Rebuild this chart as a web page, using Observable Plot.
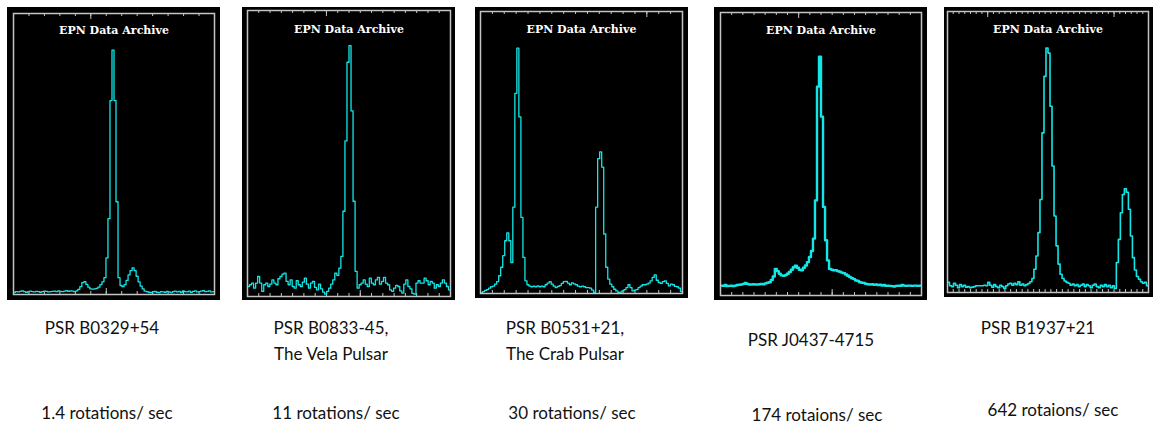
<!DOCTYPE html>
<html><head><meta charset="utf-8">
<script src="https://cdn.jsdelivr.net/npm/d3@7"></script>
<script src="https://cdn.jsdelivr.net/npm/@observablehq/plot@0.6"></script>
<style>
html,body{margin:0;padding:0;background:#fff;width:1153px;height:425px;overflow:hidden;}
#root{position:relative;width:1153px;height:425px;}
.panel{position:absolute;}
.lbl{position:absolute;transform:translate(-50%,-50%);font-family:Lato,"Open Sans",sans-serif;font-size:17px;color:#111;white-space:nowrap;text-align:center;line-height:26px;}
</style></head><body><div id="root"></div>
<script>
// ---- data (intensity in % of panel height, 100 phase bins each) ----
const titles = ["EPN Data Archive","EPN Data Archive","EPN Data Archive","EPN Data Archive","EPN Data Archive"];
const pulsarNames = [["PSR B0329+54"],["PSR B0833-45,","The Vela Pulsar"],["PSR B0531+21,","The Crab Pulsar"],["PSR J0437-4715"],["PSR B1937+21"]];
const rates = ["1.4 rotations/ sec","11 rotations/ sec","30 rotations/ sec","174 rotaions/ sec","642 rotaions/ sec"];

const b0329 = [0.8,1.0,0.9,1.1,1.3,1.0,0.8,1.0,1.2,1.0,0.9,1.1,1.0,0.8,1.0,1.2,1.1,0.9,1.0,1.1,1.2,1.0,1.3,1.1,1.0,1.2,1.4,1.1,1.3,1.2,1.0,1.3,
 1.8,2.8,4.2,4.6,3.6,2.6,2.0,1.9,2.0,2.2,2.6,3.5,4.5,6.0,13,27,69,87,69,33,6.0,3.2,2.8,3.5,5.0,7.0,8.5,9.5,8.5,6.5,4.5,3.0,2.0,1.2,
 1.0,0.8,0.7,0.9,1.1,0.8,0.7,1.0,0.9,0.8,1.1,0.9,0.7,1.0,1.2,0.9,1.1,0.8,1.3,1.0,0.9,1.2,0.8,1.1,1.3,0.9,1.0,1.2,1.4,1.0,1.1,1.3,0.9,1.0];
const b0833 = [3.5,4.1,4.7,2.9,4.7,7.0,4.7,1.8,4.1,4.7,3.5,4.3,5.8,4.7,4.1,6.2,7.0,7.8,8.2,5.3,
 4.1,5.8,3.5,2.9,5.5,4.1,3.5,5.0,6.4,4.3,2.9,4.7,5.3,3.2,2.3,4.3,2.7,1.5,0.8,1.8,
 2.9,4.3,5.8,8.2,7.4,9.9,14.0,29.8,54.4,81.9,87.7,64.9,33.3,8.8,2.9,4.1,4.7,5.8,4.3,3.5,
 6.4,4.7,4.1,5.8,6.7,4.3,5.3,6.7,4.7,4.1,2.3,1.8,2.9,3.9,3.5,2.0,1.2,4.3,5.8,3.5,
 2.7,1.1,0.8,4.7,5.5,4.7,4.7,6.4,5.5,4.1,5.3,4.7,2.9,4.1,3.5,4.7,5.8,4.7,3.5,2.3];
const b0531 = [0.2,0.7,1.1,1.4,1.9,2.4,2.6,3.3,4.2,6.3,9.3,13.4,18.7,21.5,18.7,11.0,30.6,71,87,62.6,
 27,12.8,4.5,3.1,2.6,2.4,2.6,2.4,2.7,2.4,2.6,2.4,3.1,3.7,4.2,3.3,2.6,2.1,2.5,2.8,
 3.6,4.2,4.3,3.7,3.1,3.8,3.4,3.1,2.6,2.4,2.6,2.4,2.1,2.1,1.9,1.2,0.4,30.6,47.8,50.2,
 44.8,21.1,9.3,5.1,3.3,2.4,1.5,0.9,0.4,0.5,0.9,1.4,2.1,3.1,2.1,0.9,1.2,1.4,2.1,2.6,
 3.1,3.1,3.3,3.7,4.5,5.7,6.6,4.7,3.9,3.6,4.2,4.5,3.6,2.7,3.3,3.1,2.5,2.4,1.9,0.7];
const j0437 = [3.5,3.4,3.7,3.3,3.4,3.5,3.3,3.5,3.7,3.8,3.9,4.1,4.4,4.1,3.9,3.9,4.0,3.9,3.9,4.0,
 4.1,4.0,4.3,4.5,4.7,5.5,6.7,9.4,8.6,7.7,7.1,7.0,7.2,7.7,8.3,9.1,10.0,10.5,9.8,9.1,
 8.9,9.8,10.6,11.8,13.6,15.7,20.1,33.6,73.8,84.4,63.2,31.3,19.5,12.4,9.4,9.1,8.9,8.9,8.6,8.4,
 8.1,7.9,7.4,7.0,6.5,6.1,5.8,5.3,5.1,4.7,4.5,4.4,4.1,4.0,3.9,4.0,3.8,3.9,3.7,3.8,
 3.5,3.7,3.4,3.5,3.4,3.3,3.2,3.4,3.5,3.4,3.7,3.5,3.4,3.5,3.5,3.4,3.5,3.5,3.4,3.5];
const b1937 = [3.6,2.4,2.1,3.3,2.6,1.7,2.8,2.1,2.6,1.9,2.1,1.7,1.9,2.1,2.4,2.4,2.4,2.4,2.6,2.4,
 3.6,2.6,1.9,2.8,2.1,1.7,2.6,2.1,1.4,2.4,3.0,3.3,2.6,3.3,2.8,3.8,2.6,3.0,2.4,2.8,
 3.2,3.8,5.0,8.3,13.0,21.3,33.1,56.8,76.9,87.0,85.2,66.3,45.0,27.2,16.6,10.1,6.5,5.0,4.1,3.6,
 3.3,2.6,3.0,2.4,2.8,2.1,2.6,3.0,2.1,2.8,2.4,1.7,2.6,3.0,2.1,1.7,2.6,2.1,2.8,2.1,
 2.6,1.7,2.4,1.4,10.7,18.9,28.4,34.9,36.9,35.7,29.6,20.1,12.4,8.0,5.7,4.7,3.8,3.3,3.6,2.4];
const profiles = [b0329, b0833, b0531, j0437, b1937];
// axis tick divisions and the longer ticks on top / bottom edges
const tickDivs = [13, 18, 17, 18, 35];
const majorTop = [[5],[7],[14],[7],[7,29]];
const majorBottom = [[6],[10],[],[10],[]];

// ---- layout ----
const layout = [
  {left:7,   top:7, w:213, h:293, mt:6, mr:6, mb:6, ml:6, lw:1.3, dy:17},
  {left:242, top:7, w:213, h:293, mt:3, mr:5, mb:4, ml:5, lw:1.3, dy:18.5},
  {left:475, top:7, w:213, h:291, mt:4, mr:6, mb:5, ml:5, lw:1.3, dy:18},
  {left:714, top:7, w:213, h:293, mt:5, mr:6, mb:5, ml:6, lw:2.4, dy:18},
  {left:944, top:7, w:209, h:290, mt:4, mr:5, mb:5, ml:3, lw:1.6, dy:18}
];
const nameLbl = [{x:102,y:328},{x:331,y:341},{x:565,y:341},{x:811,y:340},{x:1038,y:328}];
const rateLbl = [{x:107,y:413},{x:336,y:413},{x:572,y:413},{x:817,y:415},{x:1053,y:410}];

const frameColor = "#c4c4c4";
const lineColor = "#12e6e6";
const root = document.getElementById("root");

profiles.forEach((vals, p) => {
  const L = layout[p];
  const n = vals.length;
  const div = tickDivs[p];
  const minor = d3.range(1, div).map(k => k / div);
  const major = majorTop[p].map(k => k / div);
  const majorB = majorBottom[p].map(k => k / div);
  const unit = 100 / (L.h - L.mt - L.mb); // y units per pixel
  const tk = {x: d => d, stroke: frameColor, strokeWidth: 1};
  const svg = Plot.plot({
    width: L.w, height: L.h,
    marginTop: L.mt, marginRight: L.mr, marginBottom: L.mb, marginLeft: L.ml,
    style: {background: "black", overflow: "visible"},
    x: {domain: [0, 1], axis: null},
    y: {domain: [0, 100], axis: null},
    marks: [
      Plot.ruleX(minor, {...tk, y1: 100, y2: 100 - 3 * unit}),
      Plot.ruleX(minor, {...tk, y1: 0, y2: 3 * unit}),
      Plot.ruleX(major, {...tk, y1: 100, y2: 100 - 6 * unit}),
      Plot.ruleX(majorB, {...tk, y1: 0, y2: 6 * unit}),
      Plot.line(vals, {x: (d, i) => (i + 0.5) / n, y: d => d, stroke: lineColor, strokeWidth: L.lw, curve: "step"}),
      Plot.frame({stroke: frameColor, strokeWidth: 1.5}),
      Plot.text([titles[p]], {frameAnchor: "top", lineAnchor: "middle", dy: L.dy, fill: "white",
        fontSize: 11, fontWeight: "bold", fontFamily: "DejaVu Serif"})
    ]
  });
  const wrap = document.createElement("div");
  wrap.className = "panel";
  wrap.style.left = L.left + "px";
  wrap.style.top = L.top + "px";
  wrap.appendChild(svg);
  root.appendChild(wrap);

  const nl = document.createElement("div");
  nl.className = "lbl";
  nl.style.left = nameLbl[p].x + "px";
  nl.style.top = nameLbl[p].y + "px";
  pulsarNames[p].forEach((t, j) => {
    if (j) nl.appendChild(document.createElement("br"));
    nl.appendChild(document.createTextNode(t));
  });
  root.appendChild(nl);

  const rl = document.createElement("div");
  rl.className = "lbl";
  rl.style.left = rateLbl[p].x + "px";
  rl.style.top = rateLbl[p].y + "px";
  rl.textContent = rates[p];
  root.appendChild(rl);
});
</script></body></html>
